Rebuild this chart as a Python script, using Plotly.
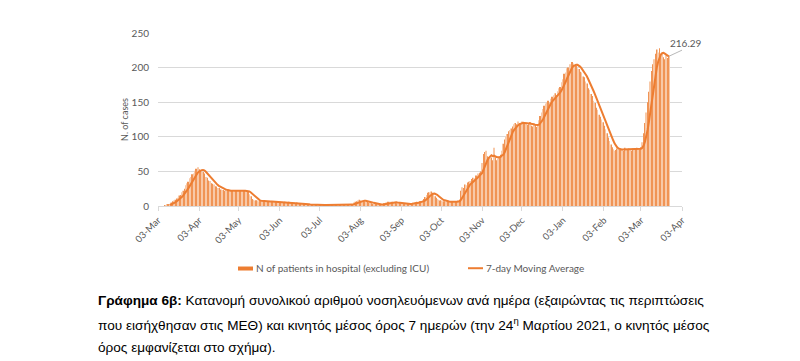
import pandas as pd
import plotly.graph_objects as go

# ---- data: daily patients in hospital (excluding ICU), from 2020-03-06 ----
start_date = "2020-03-06"
mar20 = [0, 0, 1, 1, 2, 3, 3, 5, 7, 8, 9, 11, 12, 15, 16, 20, 22, 25, 30, 33, 35, 40, 42, 46, 47, 51]
apr20 = [54, 56, 53, 52, 50, 49, 47, 42, 41, 37, 36, 33, 32, 31, 28, 28, 26, 26, 24, 24,
         23, 22, 23, 22, 21, 22, 22, 23, 21, 22]
may20 = [22, 23, 22, 21, 22, 22, 21, 22, 22, 21, 17, 14, 10, 9, 8, 8, 8, 7, 7, 7,
         7, 7, 6, 7, 6, 7, 6, 7, 6, 7, 6]
jun20 = [6, 6, 6, 5, 6, 5, 6, 5, 5, 6, 5, 5, 4, 5, 4, 5, 4, 4, 4, 3,
         3, 2, 2, 2, 2, 1, 2, 1, 2, 1]
jul20 = [2, 1, 2, 1, 1, 2, 1, 2, 1, 1, 2, 1, 2, 1, 1, 2, 1, 2, 1, 2,
         1, 2, 1, 2, 2, 2, 2, 3, 5, 6, 7]
aug20 = [8, 9, 8, 8, 7, 7, 6, 6, 5, 5, 4, 3, 3, 2, 2, 2, 2, 2, 3, 3,
         4, 5, 5, 6, 6, 5, 6, 5, 5, 4, 4]
sep20 = [4, 4, 4, 3, 3, 3, 3, 3, 3, 3, 4, 4, 5, 5, 6, 6, 7, 7, 8, 10,
         13, 16, 19, 20, 21, 19, 17, 14, 12, 10]
oct20 = [9, 8, 8, 7, 7, 6, 6, 6, 5, 6, 6, 5, 6, 7, 7, 8, 9,
         22, 27, 26, 31, 30, 34, 35, 36, 39, 41, 40, 44, 43, 47]
nov20 = [48, 50, 62, 75, 78, 80, 72, 70, 68, 70, 66, 84, 70, 66, 68, 70, 74, 80, 90, 96,
         100, 104, 108, 110, 112, 115, 118, 120, 118, 122]
dec20 = [120, 118, 122, 121, 119, 120, 117, 118, 121, 116, 115, 119, 117, 114, 118, 124, 130, 135, 140, 145,
         148, 150, 152, 150, 155, 158, 160, 163, 160, 166, 170]
jan21 = [172, 179, 183, 191, 193, 199, 200, 205, 205, 208, 206, 202, 203, 199, 198, 194, 193, 187, 186, 180,
         177, 170, 168, 162, 159, 152, 149, 142, 139, 132, 129]
feb21 = [125, 121, 116, 111, 105, 99, 94, 89, 85, 82, 80, 81, 83, 82, 81, 83, 82, 80, 84, 82,
         81, 83, 82, 80, 83, 82, 81, 84]
mar21 = [82, 82, 85, 92, 105, 120, 135, 150, 165, 180, 195, 205, 212, 220, 226, 222, 228, 218, 220, 215,
         212, 218, 214, 217]

bar_name = "N of patients in hospital (excluding ICU)"
line_name = "7-day Moving Average"
y_ticks = [0, 50, 100, 150, 200, 250]
caption_lines = [
    "<b>Γράφημα 6β:</b> Κατανομή συνολικού αριθμού νοσηλευόμενων ανά ημέρα (εξαιρώντας τις περιπτώσεις",
    "που εισήχθησαν στις ΜΕΘ) και κινητός μέσος όρος 7 ημερών (την 24<sup>η</sup> Μαρτίου 2021, ο κινητός μέσος",
    "όρος εμφανίζεται στο σχήμα).",
]

values = mar20 + apr20 + may20 + jun20 + jul20 + aug20 + sep20 + oct20 + nov20 + dec20 + jan21 + feb21 + mar21
dates = pd.date_range(start_date, periods=len(values), freq="D")
series = pd.Series(values, index=dates)
ma = series.rolling(7).mean()

# ---- layout geometry (pixels) ----
W, H = 800, 361
L, R, T, B = 158, 682, 33.3, 205.7


def fx(px):
    return (px - L) / (R - L)


def fy(py):
    return (B - py) / (B - T)


ORANGE = "#ED7D31"
BAR_BG = "#F8C9A8"
GREY = "#595959"
FONT = "Lato"

fig = go.Figure()
fig.add_trace(go.Bar(x=dates, y=values, name=bar_name, showlegend=False,
                     marker=dict(color=ORANGE, line=dict(width=0),
                                 pattern=dict(shape="|", fgcolor=ORANGE, bgcolor=BAR_BG,
                                              size=4, solidity=0.35, fillmode="replace"))))
fig.add_trace(go.Scatter(x=dates, y=ma, name=line_name, mode="lines", showlegend=False,
                         line=dict(color=ORANGE, width=2)))

# last moving-average value label with leader line
last_x, last_y = dates[-1], ma.iloc[-1]
fig.add_annotation(x=last_x, y=last_y, xref="x", yref="y",
                   text=f"{last_y:.2f}", showarrow=False,
                   xanchor="left", yanchor="middle", xshift=-1, yshift=13,
                   font=dict(family=FONT, size=10, color=GREY))
fig.add_shape(type="line", xref="x", yref="y",
              xsizemode="pixel", ysizemode="pixel",
              xanchor=last_x, yanchor=last_y,
              x0=0, y0=0, x1=15, y1=7,
              line=dict(color="#A6A6A6", width=0.8))

# custom legend
fig.add_shape(type="rect", xref="paper", yref="paper",
              x0=fx(238), x1=fx(253), y0=fy(266), y1=fy(270),
              fillcolor=ORANGE, line=dict(width=0))
fig.add_annotation(x=fx(254), y=fy(267.7), xref="paper", yref="paper",
                   text=bar_name, showarrow=False, xanchor="left", yanchor="middle",
                   font=dict(family=FONT, size=10, color=GREY))
fig.add_shape(type="line", xref="paper", yref="paper",
              x0=fx(468), x1=fx(483), y0=fy(267.7), y1=fy(267.7),
              line=dict(color=ORANGE, width=2))
fig.add_annotation(x=fx(484), y=fy(267.7), xref="paper", yref="paper",
                   text=line_name, showarrow=False, xanchor="left", yanchor="middle",
                   font=dict(family=FONT, size=10, color=GREY))

for i, line in enumerate(caption_lines):
    fig.add_annotation(x=fx(96), y=fy(300 + 23.3 * i), xref="paper", yref="paper",
                       text=line, showarrow=False, xanchor="left", yanchor="middle",
                       align="left",
                       font=dict(family="Liberation Sans", size=13.6, color="#000000"))

fig.update_layout(
    width=W, height=H,
    margin=dict(l=L, r=W - R, t=T, b=H - B),
    paper_bgcolor="white", plot_bgcolor="white",
    bargap=0.3,
    showlegend=False,
    font=dict(family=FONT, color=GREY),
)
fig.update_xaxes(
    type="date", range=["2020-03-03", "2021-04-03"],
    tick0="2020-03-03", dtick="M1", tickformat="%d-%b", tickangle=-45,
    tickfont=dict(family=FONT, size=9.5, color=GREY),
    showgrid=False, showline=True, linecolor="#D9D9D9", linewidth=1,
    ticks="outside", ticklen=4, tickcolor="#D9D9D9", zeroline=False,
)
fig.update_yaxes(
    range=[0, 250], tickvals=y_ticks,
    tickfont=dict(family=FONT, size=10, color=GREY),
    showgrid=True, gridcolor="#D9D9D9", gridwidth=1, zeroline=False,
    showline=False, ticks="", ticklabelstandoff=8,
    title=dict(text="N. of cases", font=dict(family=FONT, size=9, color=GREY), standoff=1),
)

fig.write_html("out.html", config={"displayModeBar": False},
               post_script="document.body.style.margin='0px';")
